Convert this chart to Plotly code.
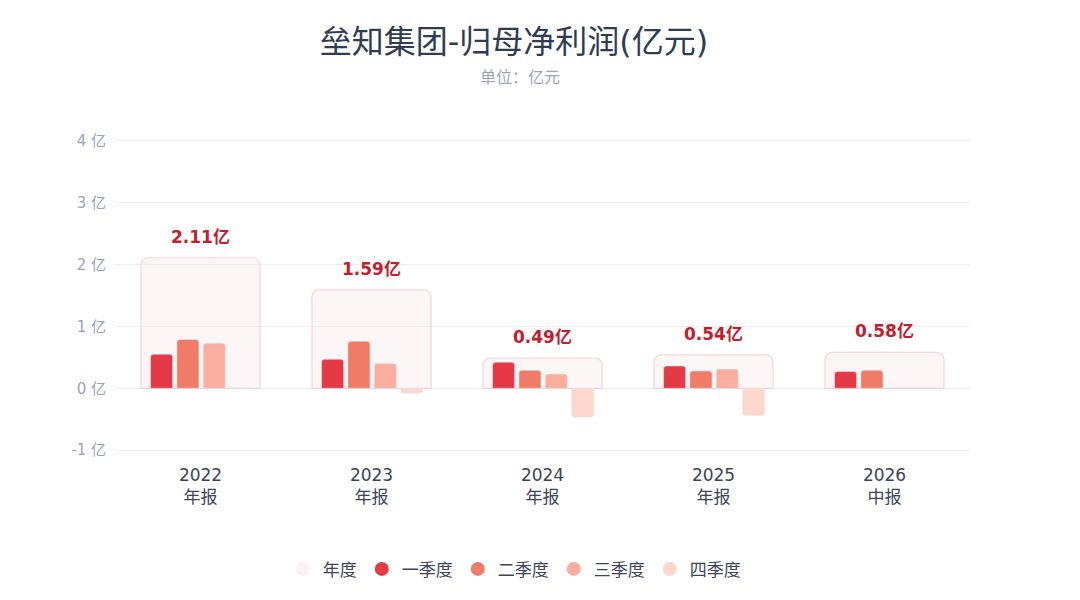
import plotly.graph_objects as go

# data (亿元)
periods = ["2022<br>年报", "2023<br>年报", "2024<br>年报", "2025<br>年报", "2026<br>中报"]
annual = [2.11, 1.59, 0.49, 0.54, 0.58]
q1 = [0.55, 0.47, 0.42, 0.36, 0.27]
q2 = [0.79, 0.76, 0.29, 0.28, 0.29]
q3 = [0.73, 0.40, 0.23, 0.31, None]
q4 = [0.01, -0.08, -0.47, -0.44, None]
y_ticks = [-1, 0, 1, 2, 3, 4]
y_labels = ["-1 亿", "0 亿", "1 亿", "2 亿", "3 亿", "4 亿"]

quarter_names = ["一季度", "二季度", "三季度", "四季度"]
quarter_colors = ["#e63946", "#f07b66", "#fbaea0", "#fdd6cc"]
quarter_offsets = [-0.292, -0.138, 0.016, 0.170]
font_family = "DejaVu Sans, Noto Sans CJK SC, sans-serif"
cjk_family = "Noto Sans CJK SC, DejaVu Sans, sans-serif"

fig = go.Figure()

# annual background box
fig.add_trace(go.Bar(
    x=periods, y=annual, name="年度",
    width=0.696, offset=-0.348,
    marker=dict(color="rgba(246,228,232,0.35)",
                line=dict(color="rgba(235,190,198,0.6)", width=1.2),
                cornerradius=7),
    showlegend=False, hovertemplate="%{x}<br>年度: %{y:.2f}亿<extra></extra>",
))

for name, vals, col, off in zip(quarter_names, [q1, q2, q3, q4], quarter_colors, quarter_offsets):
    fig.add_trace(go.Bar(
        x=periods, y=vals, name=name,
        width=0.129, offset=off,
        marker=dict(color=col, cornerradius=3),
        showlegend=False,
        hovertemplate="%{x}<br>" + name + ": %{y:.2f}亿<extra></extra>",
    ))

# annual value labels above the boxes
for p, v in zip(periods, annual):
    fig.add_annotation(
        x=p, y=v, text=f"<b>{v:.2f}亿</b>", showarrow=False,
        yshift=21, font=dict(color="#c41d2b", size=17, family=font_family),
    )

# legend entries with round markers
legend_items = [("年度", "#fbf1f2")] + list(zip(quarter_names, quarter_colors))
for name, col in legend_items:
    fig.add_trace(go.Scatter(
        x=[None], y=[None], mode="markers", name=name,
        marker=dict(symbol="circle", size=14, color=col),
    ))

fig.add_annotation(
    text="单位：亿元", xref="paper", yref="paper", x=0.474, y=1.2,
    yanchor="middle", showarrow=False,
    font=dict(size=16, color="#9aa5bb", family=cjk_family),
)

# the page body adds 8px, so the figure is drawn 16px smaller
fig.update_layout(
    width=1064, height=584,
    barmode="overlay",
    paper_bgcolor="white", plot_bgcolor="white",
    margin=dict(l=107, r=102, t=131, b=140, autoexpand=False),
    font=dict(family=font_family, color="#3a4557"),
    title=dict(
        text="垒知集团-归母净利润(亿元)",
        x=0.4756, xanchor="center", xref="container",
        y=0.942, yanchor="middle", yref="container",
        font=dict(size=32, color="#2f3d52", family=font_family),
    ),
    legend=dict(
        orientation="h", x=0.467, xanchor="center", y=-0.375, yanchor="middle",
        font=dict(size=17, color="#3a4557"), itemwidth=30,
    ),
    xaxis=dict(
        tickfont=dict(size=17, color="#3a4557"),
        showgrid=False, zeroline=False, showline=False,
        ticks="", ticklabelstandoff=11,
    ),
    yaxis=dict(
        range=[-1.03, 4.03],
        tickvals=y_ticks, ticktext=y_labels,
        tickfont=dict(size=15, color="#9aa5bb"),
        gridcolor="#eceef3", gridwidth=1,
        zeroline=False, showline=False,
        ticklabelstandoff=8,
    ),
)

fig.write_html("out.html")
